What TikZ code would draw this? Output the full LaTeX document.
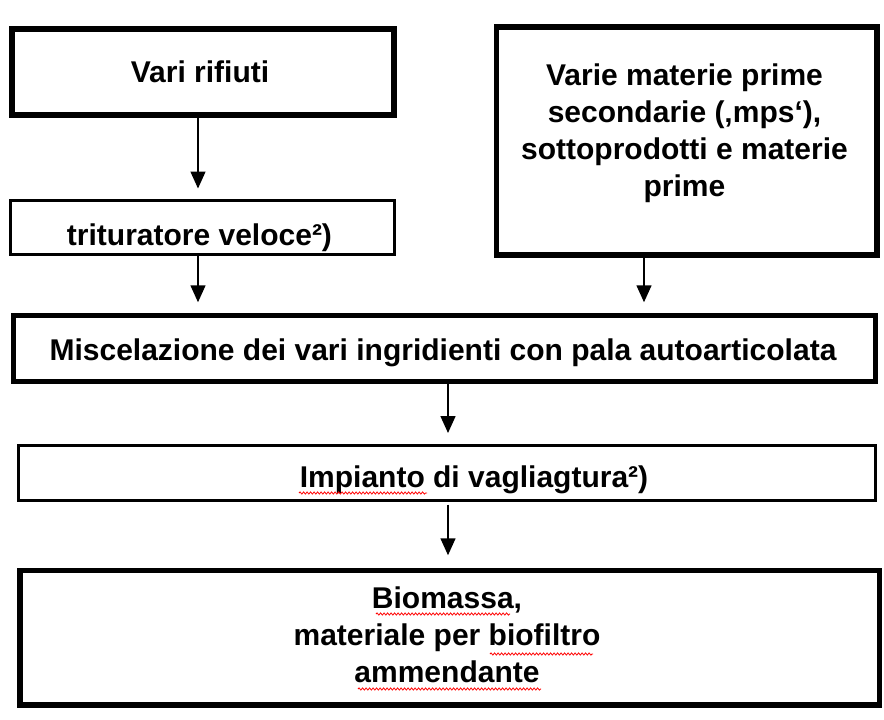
\documentclass[tikz,border=0pt]{standalone}
\usepackage{fontspec}
\setmainfont{Liberation Sans}
\usetikzlibrary{arrows.meta,decorations.pathmorphing}
\begin{document}
\begin{tikzpicture}[x=1pt,y=-1pt,
  boxthick/.style={draw=black, line width=5.5pt, inner sep=0pt},
  boxthin/.style={draw=black, line width=3pt, inner sep=0pt},
  txt/.style={font=\fontsize{30}{37}\selectfont\bfseries, anchor=base, inner sep=0pt},
  arr/.style={-{Triangle[width=15pt,length=17pt]}, line width=1.5pt, shorten >=10.5pt},
  squig/.style={red, line width=0.8pt, decorate, decoration={snake, amplitude=1.1pt, segment length=3.5pt}}
]
\useasboundingbox (0,0) rectangle (884,720);

% boxes
\node[boxthick, minimum width=382pt, minimum height=86pt] (box1) at (203,72) {};
\node[boxthin, minimum width=384pt, minimum height=54pt] (box2) at (202.5,227.5) {};
\node[boxthick, minimum width=380.5pt, minimum height=228pt] (box3) at (686.75,141) {};
\node[boxthick, minimum width=862pt, minimum height=66pt] (box4) at (444.5,348.5) {};
\node[boxthin, minimum width=856.5pt, minimum height=55pt] (box5) at (446.75,472.5) {};
\node[boxthick, minimum width=859.5pt, minimum height=134.5pt] (box6) at (449.5,637.75) {};

% texts
\node[txt] (t1) at (200,82) {Vari rifiuti};
\node[txt] (t2) at (199.5,245) {trituratore veloce²)};
\node[txt] (t3) at (684.5,85) {\begin{tabular}[t]{@{}c@{}}Varie materie prime\\secondarie (‚mps‘),\\sottoprodotti e materie\\prime\end{tabular}};
\node[txt] (t4) at (443,360) {Miscelazione dei vari ingridienti con pala autoarticolata};
\node[txt] (t5) at (474,487) {Impianto di vagliagtura²)};
\node[txt] (t6) at (447,608) {\begin{tabular}[t]{@{}c@{}}Biomassa,\\materiale per biofiltro\\ammendante\end{tabular}};

% spell-check squiggles
\draw[squig] (299,493) -- (427,493);
\draw[squig] (376,614) -- (510,614);
\draw[squig] (490,654) -- (593,654);
\draw[squig] (358,689) -- (541,689);

% connectors
\coordinate (cl) at (198,0);
\coordinate (cr) at (644,0);
\coordinate (cm) at (448,0);
\draw[arr] (box1.south -| cl) -- (box2.north -| cl);
\draw[arr] (box2.south -| cl) -- (box4.north -| cl);
\draw[arr] (box3.south -| cr) -- (box4.north -| cr);
\draw[arr] (box4.south -| cm) -- (box5.north -| cm);
\draw[arr, shorten <=3pt, shorten >=12.5pt] (box5.south -| cm) -- (box6.north -| cm);
\end{tikzpicture}
\end{document}
